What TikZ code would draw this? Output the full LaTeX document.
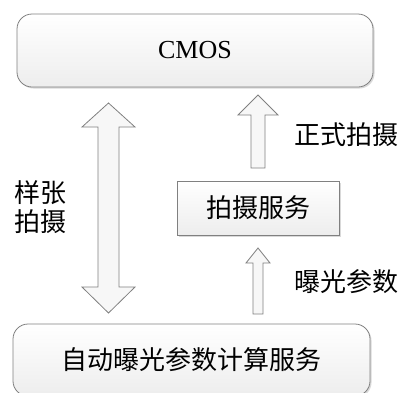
\documentclass[tikz,border=0pt]{standalone}
\usepackage{fontspec}
\setmainfont{Liberation Serif}
\newfontfamily\cjk{Noto Sans CJK SC}
\usetikzlibrary{shadows}
\tikzset{
  boxbase/.style={draw=black!50, line width=0.8pt, top color=white, bottom color=black!7,
    drop shadow={shadow xshift=1.5pt, shadow yshift=-1.5pt, opacity=0.25, fill=black!60},
    inner sep=0pt, outer sep=0pt},
  roundbox/.style={boxbase, rounded corners=15pt},
  squarebox/.style={boxbase},
  fatarrow/.style={draw=black!50, line width=0.8pt, fill=black!3, line join=miter},
  cjktext/.style={font=\cjk\fontsize{26}{29}\selectfont},
  lbl/.style={cjktext, inner sep=0pt, align=center},
}
\begin{document}
\begin{tikzpicture}[x=1pt,y=-1pt]
\useasboundingbox (0,0) rectangle (401,392);
\clip (0,0) rectangle (401,392);
\node[roundbox, minimum width=356pt, minimum height=73pt] (cmos) at (195,50.5)
  {\fontsize{26}{30}\selectfont CMOS};
\node[squarebox, cjktext, minimum width=162pt, minimum height=54pt] (svc) at (258,208) {拍摄服务};
\node[roundbox, cjktext, minimum width=357pt, minimum height=72pt] (auto) at (191.5,360) {自动曝光参数计算服务};
% double arrow
\draw[fatarrow] (108.5,103) -- (135,127) -- (119,127) -- (119,287) -- (135,287)
  -- (108.5,313) -- (82,287) -- (98,287) -- (98,127) -- (82,127) -- cycle;
% up arrow 1
\draw[fatarrow] (258,95) -- (278,115) -- (265,115) -- (265,168) -- (251,168)
  -- (251,115) -- (238,115) -- cycle;
% up arrow 2
\draw[fatarrow] (258,248) -- (270,263) -- (263,263) -- (263,314) -- (253,314)
  -- (253,263) -- (246,263) -- cycle;
\node[lbl] (l1) at (346,135) {正式拍摄};
\node[lbl] (l2) at (346,282) {曝光参数};
\node[lbl] (l3) at (40,207.5) {样张\\拍摄};
\end{tikzpicture}
\end{document}
